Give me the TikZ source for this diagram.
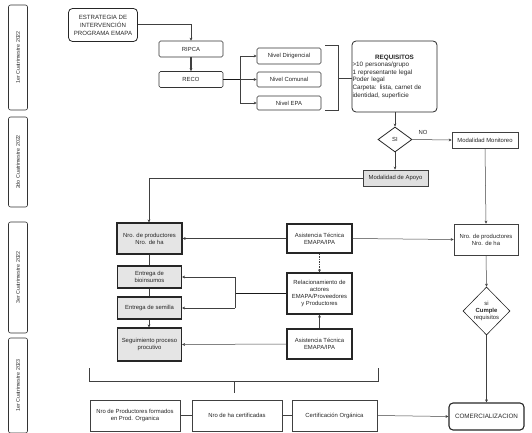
\documentclass[tikz,border=0pt]{standalone}
\usepackage{fontspec}
\setmainfont{Liberation Sans}
\usetikzlibrary{shapes.geometric,arrows.meta}
\begin{document}
\begin{tikzpicture}[x=1pt,y=-1pt,
  font=\fontsize{5.9}{7.1}\selectfont,
  every node/.style={inner sep=0.5pt, align=center, text=black!85},
  rbox/.style={draw=black!80, line width=0.6pt, rounded corners=1.5pt},
  rbig/.style={draw=black!85, line width=0.8pt, rounded corners=4pt},
  sbox/.style={draw=black!75, line width=0.6pt},
  tbox/.style={draw=black!85, line width=1.1pt},
  gbox/.style={draw=black!85, line width=1.1pt, fill=black!10},
  side/.style={draw=black!80, line width=0.6pt, rounded corners=2pt, rotate=90, minimum height=19pt, font=\fontsize{5.3}{6}\selectfont},
  dia/.style={draw=black!85, line width=0.8pt, diamond, inner sep=0pt},
  conn/.style={draw=black!75, line width=0.5pt},
  arr/.style={conn, -{Stealth[length=3pt,width=2.8pt]}},
  thk/.style={draw=black!90, line width=1.1pt},
]
\useasboundingbox (0,0) rectangle (532,433);
% side labels
\node[side, minimum width=105pt] (s1) at (18,57.5) {1er Cuatrimestre 2022};
\node[side, minimum width=90pt] (s2) at (18,162) {2do Cuatrimestre 2022};
\node[side, minimum width=111pt] (s3) at (18,277.5) {3er Cuatrimestre 2022};
\node[side, minimum width=95pt] (s4) at (18,385.5) {1er Cuatrimestre 2023};
% top section
\node[rbig, minimum width=69pt, minimum height=33pt, font=\fontsize{6.1}{8}\selectfont] (est) at (103,25) {ESTRATEGIA DE\\INTERVENCIÓN\\PROGRAMA EMAPA};
\node[rbox, minimum width=64pt, minimum height=16pt] (ripca) at (191,49) {RIPCA};
\node[rbox, minimum width=64pt, minimum height=16pt] (reco) at (191,79.5) {RECO};
\node[rbox, minimum width=64pt, minimum height=16pt] (nd) at (289,56) {Nivel Dirigencial};
\node[rbox, minimum width=64pt, minimum height=15pt] (nc) at (289,79.5) {Nivel Comunal};
\node[rbox, minimum width=64pt, minimum height=14pt] (ne) at (289,103) {Nivel EPA};
\node[rbig, minimum width=85pt, minimum height=71pt, text width=84pt, align=left, inner sep=0.5pt, font=\fontsize{6.3}{7.6}\selectfont] (req) at (394.5,76.5)
  {\makebox[84pt][c]{\textbf{REQUISITOS}}\\>10 personas/grupo\\1 representante legal\\Poder legal\\Carpeta: lista, carnet de\\identidad, superficie};
\node[dia, minimum width=34pt, minimum height=25pt] (si) at (395,139.5) {SI};
\node (no) at (423,132) {NO};
\node[sbox, minimum width=66pt, minimum height=16pt] (mon) at (485,140) {Modalidad Monitoreo};
\node[sbox, fill=black!12, line width=0.8pt, minimum width=65pt, minimum height=16pt] (apoyo) at (395.5,178) {Modalidad de Apoyo};
% middle section
\node[gbox, minimum width=65pt, minimum height=31pt] (nro) at (149.5,238.5) {Nro. de productores\\Nro. de ha};
\node[gbox, minimum width=64pt, minimum height=22pt] (bio) at (149.5,277) {Entrega de\\bioinsumos};
\node[gbox, minimum width=64pt, minimum height=22pt] (sem) at (149.5,308) {Entrega de semilla};
\node[gbox, minimum width=64pt, minimum height=33pt] (seg) at (149.5,344.5) {Seguimiento proceso\\procutivo};
\node[tbox, minimum width=65pt, minimum height=29pt] (at1) at (319.5,238.5) {Asistencia Técnica\\EMAPA/IPA};
\node[tbox, minimum width=65pt, minimum height=41pt] (rel) at (319.5,293.5) {Relacionamiento de\\actores\\EMAPA/Proveedores\\y Productores};
\node[tbox, minimum width=65pt, minimum height=30pt] (at2) at (319.5,344) {Asistencia Técnica\\EMAPA/IPA};
\node[sbox, minimum width=64pt, minimum height=31pt] (nro2) at (486,239.5) {Nro. de productores\\Nro. de ha};
\node[dia, line width=0.6pt, minimum width=47pt, minimum height=48pt] (cum) at (486.5,311) {si\\\textbf{Cumple}\\requisitos};
% bottom section
\node[sbox, line width=0.8pt, minimum width=90pt, minimum height=31pt] (b1) at (135,415.5) {Nro de Productores formados\\en Prod. Organica};
\node[sbox, line width=0.8pt, minimum width=90pt, minimum height=31pt] (b2) at (237,415.5) {Nro de ha certificadas};
\node[sbox, line width=0.8pt, minimum width=85pt, minimum height=31pt] (b3) at (334.5,415.5) {Certificación Orgánica};
\node[rbig, line width=1.1pt, minimum width=75pt, minimum height=27pt, font=\fontsize{6.3}{7.5}\selectfont] (com) at (486.5,416.5) {COMERCIALIZACION};
% coordinates
\coordinate (bus) at (240,79.5);
\coordinate (brk) at (338,78);
\coordinate (jl) at (149,178);
\coordinate (bj) at (235,293.5);
\coordinate (btl) at (89,368);
\coordinate (btr) at (378,368);
\coordinate (bmid) at (234,381);
\coordinate (bend) at (234,393);
% connectors top
\draw[arr] (est.east |- 0,24) -| (ripca.north -| 191,0);
\draw[arr, line width=1.1pt] (ripca) -- (reco);
\draw[thk] (reco.east) -- (bus);
\draw[conn] (bus |- nd) -- (bus |- ne);
\draw[arr] (bus |- nd) -- (nd.west);
\draw[arr] (bus |- nc) -- (nc.west);
\draw[arr] (bus |- ne) -- (ne.west);
\draw[conn, line width=0.7pt] (325,45) -- (338,45) -- (338,110) -- (325,110);
\draw[conn] (brk) -- (brk -| req.west);
\draw[arr] (req.south -| si) -- (si.north);
\draw[arr] (si.east) -- (mon.west);
\draw[arr] (si.south) -- (si.south |- apoyo.north);
\draw[arr] (apoyo.west) -- (jl) -- (nro.north -| jl);
\draw[arr] (mon.south) -- (nro2.north);
% middle connectors
\draw[conn] (nro.south -| jl) -- (bio.north -| jl);
\draw[conn] (bio.south -| jl) -- (sem.north -| jl);
\draw[arr] (sem.south -| jl) -- (seg.north -| jl);
\draw[arr] (at1.west) -- (nro.east);
\draw[arr] (at1.east) -- (nro2.west);
\draw[arr, dashed, dash pattern=on 1.5pt off 1pt] (at1.south) -- (rel.north);
\draw[arr, line width=0.9pt] (at2.north) -- (rel.south);
\draw[thk] (rel.west) -- (bj);
\draw[conn] (bj |- bio) -- (bj |- sem);
\draw[arr] (bj |- bio) -- (bio.east);
\draw[arr] (bj |- sem) -- (sem.east);
\draw[arr] (at2.west) -- (seg.east);
\draw[arr] (nro2.south) -- (cum.north);
\draw[arr] (cum.south) -- (com.north);
% bottom connectors
\draw[conn, line width=0.8pt] (btl) -- (btl |- bmid) -- (btr |- bmid) -- (btr);
\draw[conn, line width=0.8pt] (bmid) -- (bend);
\draw[conn] (b1) -- (b2);
\draw[conn] (b2) -- (b3);
\draw[arr] (b3.east) -- (com.west);
\end{tikzpicture}
\end{document}
